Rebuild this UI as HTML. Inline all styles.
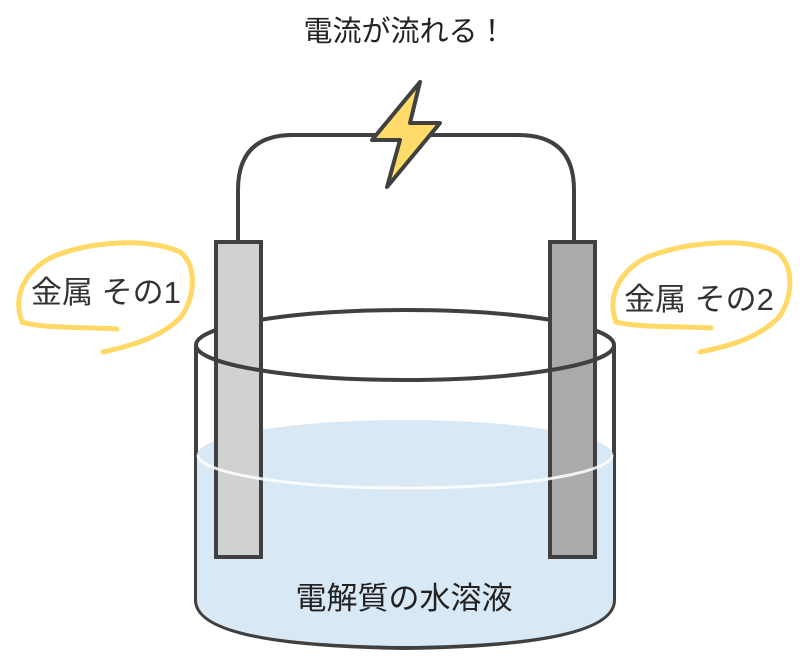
<!DOCTYPE html>
<html><head><meta charset="utf-8"><style>
html,body{margin:0;padding:0;background:#fff;}
svg{display:block;}
text{font-family:"Liberation Sans","Noto Sans CJK JP",sans-serif;}
</style></head><body>
<svg width="800" height="666" viewBox="0 0 800 666" xmlns="http://www.w3.org/2000/svg">
<text x="405" y="41" font-size="29" text-anchor="middle" fill="#222">電流が流れる！</text>
<path d="M238 240 V190 Q238 135 293 135 H518 Q574 135 574 190 V240" fill="none" stroke="#404040" stroke-width="4"/>
<path d="M420 82 L372 140 L400 140 L387 187 L440 123 L410 123 L420 82 Z" fill="#ffdb6a" stroke="#404040" stroke-width="4" stroke-linejoin="round"/>
<path d="M196 345 V600 Q196 645 405 648 Q614 645 614 600 V345" fill="#fff" stroke="#404040" stroke-width="4"/>
<path d="M197 455 A208 35 0 0 1 613 455 V600 Q613 644 405 646 Q197 644 197 600 Z" fill="#d8e8f4"/>
<path d="M196 345 A209 35 0 0 1 614 345" fill="none" stroke="#404040" stroke-width="4"/>
<rect x="216" y="242" width="45" height="315" fill="#d0d1d1" stroke="#404040" stroke-width="4"/>
<rect x="550" y="242" width="45" height="315" fill="#aaaaaa" stroke="#404040" stroke-width="4"/>
<path d="M198 455 A207 33 0 0 0 612 455" fill="none" stroke="#fff" stroke-width="3" opacity="0.85"/>
<path d="M196 345 A209 35 0 0 0 614 345" fill="none" stroke="#404040" stroke-width="4"/>
<text x="404" y="609" font-size="31" text-anchor="middle" fill="#222">電解質の水溶液</text>
<path d="M117 329 C80 327 40 328 22 322 C14 300 20 275 50 258 C90 240 150 238 180 252 C198 265 195 300 180 318 C160 338 130 346 103 352" fill="none" stroke="#ffd866" stroke-width="5" stroke-linecap="round"/>
<text x="31" y="303" font-size="31" fill="#333">金属 その1</text>
<path d="M711 328 C680 326 640 328 616 322 C608 300 615 275 645 258 C690 240 750 238 777 252 C795 265 793 300 778 318 C758 338 730 346 700 352" fill="none" stroke="#ffd866" stroke-width="5" stroke-linecap="round"/>
<text x="624" y="310" font-size="31" fill="#333">金属 その2</text>
</svg>
</body></html>
